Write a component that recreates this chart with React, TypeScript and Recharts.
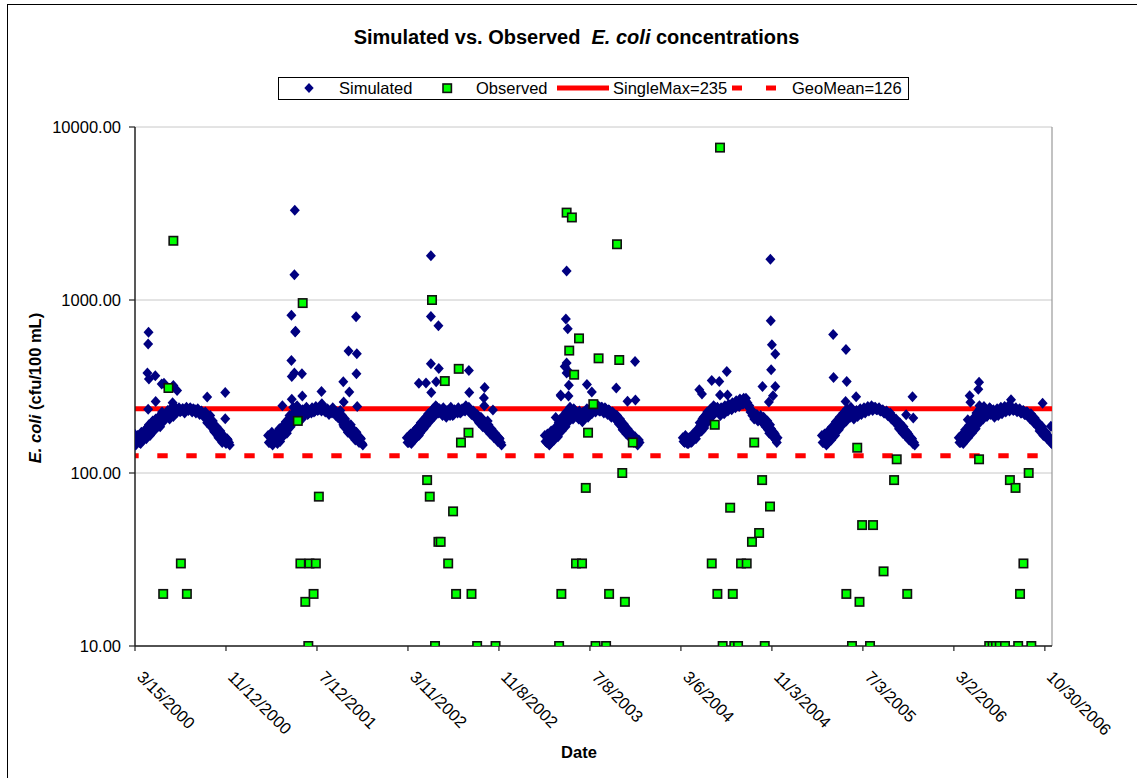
import React from "react";
import {
  ScatterChart,
  Scatter,
  XAxis,
  YAxis,
  CartesianGrid,
  ReferenceLine,
  Legend,
} from "recharts";

const FONT = "'Liberation Sans', Arial, Helvetica, sans-serif";

// Dates are spreadsheet day serials (36526 = 1/1/2000).
const X_DOMAIN: [number, number] = [36600, 39039];
const X_TICKS = [36600, 36842, 37084, 37326, 37568, 37810, 38052, 38294, 38536, 38778, 39020];
const Y_TICKS = [10, 100, 1000, 10000];

const SINGLE_MAX = 235;
const GEO_MEAN = 126;

// Simulated daily model output, sampled every SIM_STEP days per season;
// the "b" lists are the samples taken two days later in the same season.
const SIM_STEP = 5;

const sim2000Start = 36600;
const sim2000 = [
  160, 150, 155, 148, 162, 170, 158, 185, 165, 195, 175, 205, 185, 210, 195, 215, 205, 222, 210, 225,
  218, 228, 222, 230, 226, 232, 230, 234, 232, 235, 233, 235, 232, 230, 228, 225, 220, 215, 210, 200,
  215, 190, 175, 180, 165, 170, 158, 165, 152, 158, 150,
];
const sim2000b = [
  145, 165, 150, 172, 155, 178, 162, 190, 170, 200, 178, 190, 210, 185, 225, 200, 215, 230, 205, 238,
  212, 240, 225, 238, 228, 236, 222, 240, 230, 238, 225, 232, 222, 235, 218, 228, 212, 225, 195, 205,
  185, 200, 172, 185, 160, 175, 150, 162, 148, 155, 145,
];

const sim2001Start = 36954;
const sim2001 = [
  165, 150, 172, 155, 168, 148, 180, 160, 175, 190, 170, 205, 185, 220, 200, 230, 212, 225, 205, 215,
  225, 218, 228, 222, 232, 228, 235, 232, 236, 233, 235, 230, 232, 226, 222, 228, 215, 210, 222, 200,
  190, 205, 180, 175, 190, 168, 160, 172, 155, 160, 148,
];
const sim2001b = [
  150, 160, 145, 165, 158, 175, 152, 185, 165, 198, 178, 215, 190, 240, 210, 245, 220, 212, 232, 225,
  240, 220, 230, 238, 225, 242, 230, 238, 228, 240, 225, 235, 218, 230, 238, 222, 225, 212, 230, 215,
  185, 198, 172, 185, 165, 178, 155, 165, 150, 158, 145,
];

const sim2002Start = 37323;
const sim2002 = [
  160, 150, 168, 155, 175, 160, 185, 170, 195, 180, 210, 195, 220, 205, 235, 215, 240, 222, 230, 215,
  225, 210, 222, 215, 225, 218, 228, 222, 230, 225, 232, 228, 235, 240, 230, 222, 215, 205, 210, 200,
  205, 195, 185, 200, 175, 180, 165, 170, 158, 160, 150,
];
const sim2002b = [
  150, 165, 148, 172, 158, 182, 165, 195, 178, 205, 188, 220, 200, 230, 212, 245, 228, 235, 222, 238,
  218, 230, 225, 240, 215, 232, 228, 238, 222, 235, 230, 245, 235, 225, 218, 228, 210, 218, 195, 210,
  185, 198, 178, 190, 168, 175, 160, 165, 152, 158, 145,
];

const sim2003Start = 37690;
const sim2003 = [
  165, 150, 160, 148, 172, 155, 180, 162, 190, 175, 205, 185, 215, 200, 225, 205, 230, 212, 205, 220,
  198, 215, 225, 210, 230, 220, 232, 225, 235, 228, 240, 230, 238, 226, 232, 220, 225, 210, 215, 198,
  205, 185, 192, 175, 180, 165, 170, 158, 162, 150, 155,
];
const sim2003b = [
  152, 168, 145, 175, 160, 182, 170, 195, 180, 212, 190, 225, 210, 240, 220, 235, 225, 215, 228, 205,
  225, 212, 235, 220, 238, 230, 242, 235, 245, 228, 240, 222, 235, 218, 230, 210, 222, 205, 215, 192,
  200, 178, 188, 168, 175, 160, 165, 150, 158, 145, 150,
];

const sim2004Start = 38057;
const sim2004 = [
  160, 150, 155, 148, 158, 152, 165, 158, 180, 195, 175, 210, 190, 225, 205, 235, 215, 240, 225, 232,
  215, 228, 220, 235, 228, 240, 232, 245, 238, 250, 242, 258, 250, 262, 250, 240, 225, 215, 205, 210,
  200, 205, 198, 210, 185, 200, 170, 180, 162, 168, 150,
];
const sim2004b = [
  152, 165, 148, 160, 150, 168, 162, 175, 170, 188, 205, 182, 218, 200, 232, 212, 245, 230, 240, 222,
  238, 228, 245, 235, 250, 240, 255, 245, 262, 255, 268, 258, 270, 262, 255, 245, 232, 222, 212, 218,
  205, 215, 195, 205, 188, 178, 190, 165, 172, 155, 160,
];

const sim2005Start = 38427;
const sim2005 = [
  165, 150, 158, 148, 170, 155, 182, 165, 195, 178, 205, 190, 215, 200, 225, 210, 218, 205, 222, 212,
  225, 218, 228, 222, 232, 228, 236, 230, 238, 232, 235, 228, 230, 222, 225, 215, 218, 205, 210, 195,
  200, 180, 190, 170, 178, 162, 168, 155, 158, 150,
];
const sim2005b = [
  150, 168, 145, 175, 160, 185, 170, 198, 182, 210, 195, 222, 205, 235, 215, 240, 225, 215, 230, 220,
  235, 225, 238, 230, 242, 235, 245, 238, 240, 232, 238, 228, 232, 222, 228, 215, 222, 212, 200, 205,
  188, 195, 175, 185, 165, 172, 155, 160, 148, 145,
];

const sim2006Start = 38791;
const sim2006 = [
  160, 150, 168, 152, 175, 160, 190, 170, 200, 180, 215, 195, 222, 205, 225, 212, 230, 218, 225, 210,
  222, 215, 228, 220, 230, 225, 235, 228, 238, 230, 235, 226, 232, 222, 228, 218, 225, 212, 205, 210,
  195, 200, 185, 175, 180, 165, 170, 158, 162, 150,
];
const sim2006b = [
  150, 165, 148, 178, 160, 188, 175, 205, 188, 222, 200, 235, 215, 242, 225, 218, 238, 225, 232, 218,
  235, 222, 240, 230, 242, 235, 245, 238, 240, 232, 238, 228, 235, 222, 230, 218, 225, 212, 220, 200,
  208, 190, 195, 178, 185, 168, 172, 158, 160, 148,
];

// Storm-event spikes in the simulated series [date serial, cfu/100 mL].
const simPeaks: [number, number][] = [
  [36599, 168], [36633, 378], [36635, 556], [36635, 234], [36636, 650], [36637, 349], [36654, 365],
  [36655, 259], [36671, 327], [36677, 330], [36700, 255], [36702, 320], [36712, 300], [36792, 275],
  [36840, 292], [36840, 206],
  [36992, 245], [37016, 815], [37016, 447], [37017, 361], [37017, 267], [37024, 1400], [37024, 378],
  [37025, 3300], [37026, 653], [37027, 660], [37044, 375], [37045, 279], [37096, 296], [37097, 251],
  [37154, 337], [37155, 257], [37168, 507], [37170, 294], [37188, 800], [37189, 375], [37190, 489],
  [37191, 242],
  [37355, 330], [37374, 331], [37387, 1800], [37387, 804], [37387, 428], [37388, 292], [37401, 337],
  [37407, 710], [37408, 402], [37488, 391], [37489, 292], [37530, 312], [37528, 271], [37529, 245],
  [37552, 231],
  [37719, 209], [37732, 282], [37733, 279], [37743, 413], [37748, 1470], [37748, 432], [37748, 378],
  [37746, 776], [37751, 682], [37753, 279], [37754, 321], [37754, 385], [37802, 325], [37815, 294],
  [37880, 310], [37910, 260], [37930, 441], [37931, 264],
  [38101, 303], [38108, 286], [38134, 343], [38154, 338], [38156, 282], [38174, 386], [38176, 282],
  [38225, 270], [38269, 316], [38290, 1720], [38291, 759], [38292, 395], [38286, 257], [38294, 551],
  [38297, 280], [38303, 487], [38303, 316],
  [38457, 632], [38458, 356], [38490, 259], [38491, 518], [38493, 338], [38518, 276], [38651, 217],
  [38668, 276], [38670, 208],
  [38815, 203], [38820, 280], [38822, 256], [38845, 335], [38843, 305], [38846, 245], [38874, 237],
  [38930, 265], [39014, 253], [39036, 186],
];

// Observed grab samples [date serial, cfu/100 mL].
const observed: [number, number][] = [
  [36675, 20], [36689, 310], [36702, 2200], [36722, 30], [36738, 20],
  [37033, 200], [37040, 30], [37046, 960], [37053, 18], [37061, 10], [37064, 30], [37075, 20],
  [37081, 30], [37089, 73],
  [37377, 91], [37384, 73], [37390, 1000], [37398, 10], [37407, 40], [37413, 40], [37424, 340],
  [37433, 30], [37446, 60], [37454, 20], [37461, 400], [37467, 150], [37487, 171], [37495, 20],
  [37510, 10], [37559, 10],
  [37728, 10], [37734, 20], [37748, 3200], [37755, 510], [37762, 3000], [37768, 370], [37773, 30],
  [37781, 600], [37789, 30], [37799, 82], [37805, 171], [37819, 250], [37825, 10], [37833, 460],
  [37853, 10], [37861, 20], [37882, 2100], [37888, 450], [37896, 100], [37903, 18], [37924, 150],
  [38134, 30], [38142, 190], [38149, 20], [38156, 7600], [38163, 10], [38183, 63], [38190, 20],
  [38194, 10], [38204, 10], [38212, 30], [38227, 30], [38241, 40], [38247, 150], [38260, 45],
  [38268, 91], [38275, 10], [38289, 64],
  [38492, 20], [38507, 10], [38521, 140], [38527, 18], [38534, 50], [38555, 10], [38563, 50],
  [38591, 27], [38619, 91], [38626, 120], [38654, 20],
  [38845, 120], [38872, 10], [38881, 10], [38890, 10], [38900, 10], [38914, 10], [38927, 91],
  [38942, 82], [38949, 10], [38954, 20], [38963, 30], [38977, 100], [38984, 10],
];

const seasons: [number, number[]][] = [
  [sim2000Start, sim2000],
  [sim2000Start + 2, sim2000b],
  [sim2001Start, sim2001],
  [sim2001Start + 2, sim2001b],
  [sim2002Start, sim2002],
  [sim2002Start + 2, sim2002b],
  [sim2003Start, sim2003],
  [sim2003Start + 2, sim2003b],
  [sim2004Start, sim2004],
  [sim2004Start + 2, sim2004b],
  [sim2005Start, sim2005],
  [sim2005Start + 2, sim2005b],
  [sim2006Start, sim2006],
  [sim2006Start + 2, sim2006b],
];

const simulatedData = [
  ...seasons.flatMap(([start, vals]) => vals.map((y, i) => ({ x: start + i * SIM_STEP, y }))),
  ...simPeaks.map(([x, y]) => ({ x, y })),
];
const observedData = observed.map(([x, y]) => ({ x, y }));

function serialToDate(serial: number) {
  const d = new Date(Date.UTC(1899, 11, 30) + serial * 86400000);
  return `${d.getUTCMonth() + 1}/${d.getUTCDate()}/${d.getUTCFullYear()}`;
}

const Diamond = (p: any) => {
  const { cx, cy } = p;
  if (cx == null || cy == null) return null;
  return (
    <polygon
      points={`${cx},${cy - 5.5} ${cx + 5},${cy} ${cx},${cy + 5.5} ${cx - 5},${cy}`}
      fill="#000080"
    />
  );
};

const GreenSquare = (p: any) => {
  const { cx, cy } = p;
  if (cx == null || cy == null) return null;
  return (
    <rect x={cx - 4.2} y={cy - 4.2} width={8.4} height={8.4} fill="#00ff00" stroke="#111" strokeWidth={1.6} />
  );
};

function DateTick({ x, y, payload }: any) {
  const px = x + 1;
  const py = y + 25;
  return (
    <text
      x={px}
      y={py}
      transform={`rotate(45 ${px} ${py})`}
      fontFamily={FONT}
      fontSize={16.5}
      fill="#000"
      textAnchor="start"
    >
      {serialToDate(payload.value)}
    </text>
  );
}

function LegendBox() {
  const ty = 94;
  return (
    <svg width={632} height={24} style={{ display: "block", overflow: "visible" }}>
      <g transform="translate(-278,-77)" fontFamily={FONT} fontSize={16.5} fill="#000">
        <rect x={278.5} y={77.5} width={630} height={22} fill="#fff" stroke="#000" strokeWidth={1} />
        <polygon points="309,83 313.7,88 309,93 304.3,88" fill="#000080" />
        <text x={339} y={ty}>Simulated</text>
        <rect x={443} y={84} width={8.4} height={8.4} fill="#00ff00" stroke="#111" strokeWidth={1.6} />
        <text x={476} y={ty}>Observed</text>
        <line x1={557} x2={609} y1={88} y2={88} stroke="#ff0000" strokeWidth={5} />
        <text x={613} y={ty}>SingleMax=235</text>
        <line x1={732} x2={742} y1={88} y2={88} stroke="#ff0000" strokeWidth={5} />
        <line x1={766} x2={776} y1={88} y2={88} stroke="#ff0000" strokeWidth={5} />
        <text x={792} y={ty}>GeoMean=126</text>
      </g>
    </svg>
  );
}

export default function App() {
  return (
    <div style={{ position: "relative", width: 1137, height: 778, background: "#fff", fontFamily: FONT }}>
      <style>{`body{margin:0;}`}</style>
      <ScatterChart
        width={1137}
        height={778}
        margin={{ top: 127, right: 85, bottom: 32, left: 35 }}
        style={{ position: "absolute", left: 0, top: 0 }}
      >
        <CartesianGrid vertical={false} stroke="#c8c8c8" strokeWidth={1} />
        <XAxis
          type="number"
          dataKey="x"
          domain={X_DOMAIN}
          ticks={X_TICKS}
          interval={0}
          allowDataOverflow
          height={100}
          tickSize={5}
          tickMargin={2}
          axisLine={{ stroke: "#222", strokeWidth: 1.5 }}
          tickLine={{ stroke: "#222", strokeWidth: 1.2 }}
          tick={<DateTick />}
        />
        <YAxis
          type="number"
          dataKey="y"
          scale="log"
          domain={[10, 10000]}
          ticks={Y_TICKS}
          interval={0}
          allowDataOverflow
          width={100}
          tickSize={6}
          tickMargin={8}
          axisLine={{ stroke: "#222", strokeWidth: 1.5 }}
          tickLine={{ stroke: "#222", strokeWidth: 1.2 }}
          tick={{ fill: "#000", fontSize: 16.5, fontFamily: FONT }}
          tickFormatter={(v: number) => v.toFixed(2)}
        />
        <ReferenceLine x={X_DOMAIN[1]} stroke="#999" strokeWidth={1.2} />
        <Scatter
          name="Simulated"
          data={simulatedData}
          shape={<Diamond />}
          isAnimationActive={false}
        />
        <ReferenceLine y={SINGLE_MAX} stroke="#ff0000" strokeWidth={5} />
        <ReferenceLine
          y={GEO_MEAN}
          stroke="#ff0000"
          strokeWidth={5}
          strokeDasharray="10.4 18.6"
          strokeDashoffset={-22.3}
        />
        <Scatter
          name="Observed"
          data={observedData}
          shape={<GreenSquare />}
          isAnimationActive={false}
        />
        <Legend
          layout="horizontal"
          verticalAlign="middle"
          align="center"
          content={() => <LegendBox />}
          wrapperStyle={{ position: "absolute", top: 77, left: 278, width: 632, height: 24 }}
        />
      </ScatterChart>
      <svg
        width={1137}
        height={778}
        style={{ position: "absolute", left: 0, top: 0, pointerEvents: "none" }}
        fontFamily={FONT}
      >
        <rect x={7.5} y={4.5} width={1140} height={780} fill="none" stroke="#000" strokeWidth={1} />
        <text x={576.5} y={43.5} textAnchor="middle" fontSize={20} fontWeight="bold" fill="#000">
          Simulated vs. Observed{"\u00a0\u00a0"}
          <tspan fontStyle="italic">E. coli</tspan> concentrations
        </text>
        <text
          x={41}
          y={388}
          transform="rotate(-90 41 388)"
          textAnchor="middle"
          fontSize={16.5}
          fontWeight="bold"
          fill="#000"
        >
          <tspan fontStyle="italic">E. coli</tspan> (cfu/100 mL)
        </text>
        <text x={579} y={758} textAnchor="middle" fontSize={16.5} fontWeight="bold" fill="#000">
          Date
        </text>
      </svg>
    </div>
  );
}
